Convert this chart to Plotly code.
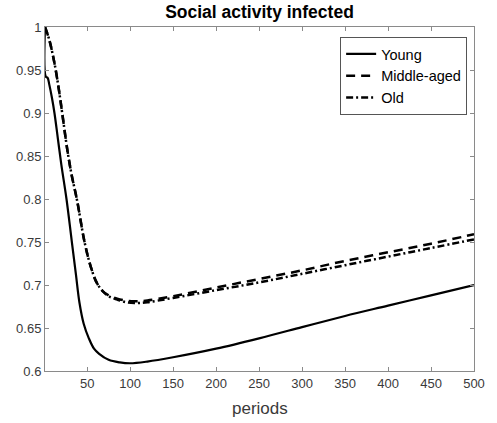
import plotly.graph_objects as go

# Sampled periods and social activity of infected agents by age group
periods_young = [1, 2, 4, 6, 9, 12, 16, 20, 26, 32, 37, 41, 46, 52, 58, 64, 75, 88,
                 100, 120, 150, 200, 250, 300, 350, 400, 450, 500]
young = [1.0, 0.942, 0.941, 0.933, 0.918, 0.900, 0.870, 0.840, 0.800, 0.752, 0.712,
         0.680, 0.655, 0.638, 0.626, 0.620, 0.613, 0.610, 0.609, 0.611, 0.616, 0.626,
         0.638, 0.651, 0.664, 0.676, 0.688, 0.700]

periods_older = [1, 6, 12, 17, 21, 27, 32, 38, 47, 54, 61, 68, 75, 85, 95, 105, 120,
                 150, 200, 250, 300, 350, 400, 450, 500]
middle_aged = [1.0, 0.985, 0.958, 0.928, 0.900, 0.857, 0.828, 0.800, 0.750, 0.722,
               0.703, 0.693, 0.688, 0.684, 0.682, 0.681, 0.682, 0.687, 0.697, 0.707,
               0.717, 0.728, 0.738, 0.748, 0.759]
old = [1.0, 0.985, 0.958, 0.928, 0.900, 0.857, 0.828, 0.800, 0.750, 0.722,
       0.703, 0.693, 0.687, 0.683, 0.680, 0.679, 0.680, 0.685, 0.694, 0.703,
       0.713, 0.723, 0.733, 0.743, 0.753]

x_ticks = [50, 100, 150, 200, 250, 300, 350, 400, 450, 500]
y_ticks = [0.6, 0.65, 0.7, 0.75, 0.8, 0.85, 0.9, 0.95, 1.0]
y_tick_text = ["0.6", "0.65", "0.7", "0.75", "0.8", "0.85", "0.9", "0.95", "1"]

FONT = "Liberation Sans, Arial, Helvetica, sans-serif"
AXIS_COLOR = "#8a8a8a"
TEXT_COLOR = "#3a3a3a"

fig = go.Figure()
fig.add_trace(go.Scatter(
    x=periods_young, y=young, mode="lines", name="Young",
    line=dict(color="black", width=2.2, shape="spline", smoothing=1.0),
))
fig.add_trace(go.Scatter(
    x=periods_older, y=middle_aged, mode="lines", name="Middle-aged",
    line=dict(color="black", width=2.5, dash="9px,6px", shape="spline", smoothing=1.0),
))
fig.add_trace(go.Scatter(
    x=periods_older, y=old, mode="lines", name="Old",
    line=dict(color="black", width=2.5, dash="7px,3px,2px,3px", shape="spline", smoothing=1.0),
))

axis_common = dict(
    showgrid=False, zeroline=False, showline=True, mirror="ticks",
    linecolor=AXIS_COLOR, linewidth=1, ticks="inside", ticklen=4,
    tickcolor=AXIS_COLOR, tickwidth=1,
    tickfont=dict(family=FONT, size=13, color=TEXT_COLOR),
)

fig.update_xaxes(range=[1, 500], tickmode="array", tickvals=x_ticks, **axis_common)
fig.update_yaxes(range=[0.6, 1.0], tickmode="array", tickvals=y_ticks,
                 ticktext=y_tick_text, **axis_common)

fig.update_layout(
    width=497, height=423,
    margin=dict(l=45, r=17, t=27, b=52),
    paper_bgcolor="white", plot_bgcolor="white",
    title=dict(text="<b>Social activity infected</b>", x=0.5, xref="paper",
               y=1 - 12 / 423, yref="container", yanchor="middle", xanchor="center",
               font=dict(family=FONT, size=17.5, color="black")),
    legend=dict(x=0.984, y=0.971, xanchor="right", yanchor="top",
                bgcolor="white", bordercolor="#555555", borderwidth=1,
                font=dict(family=FONT, size=14.5, color="black"),
                tracegroupgap=0),
    annotations=[dict(text="periods", x=0.5, y=-0.1076, xref="paper", yref="paper",
                      xanchor="center", yanchor="middle", showarrow=False,
                      font=dict(family=FONT, size=17, color=TEXT_COLOR))],
)

fig.write_html("out.html")
